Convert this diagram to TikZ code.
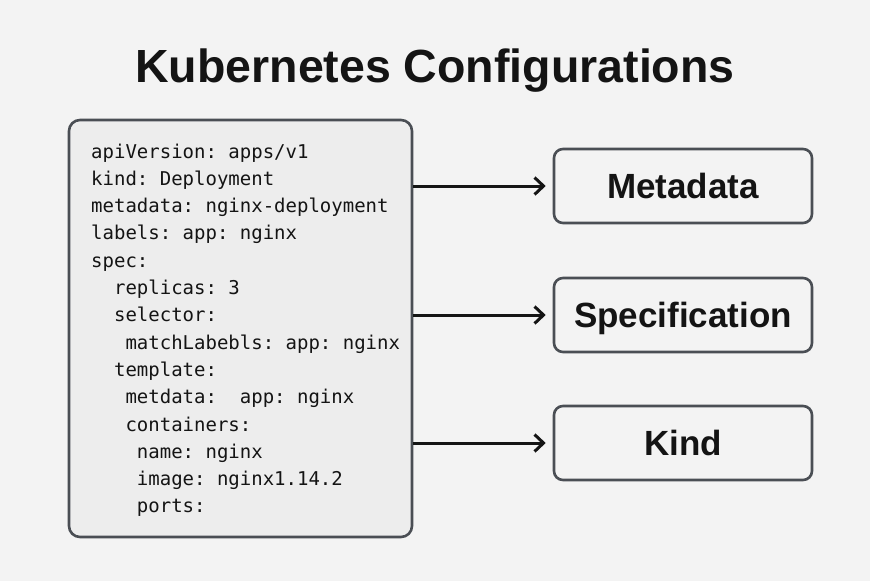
\documentclass[tikz,border=0pt]{standalone}
\usepackage{fontspec}
\setsansfont{Liberation Sans}
\setmonofont{DejaVu Sans Mono}
\usetikzlibrary{arrows.meta}

\definecolor{bgGray}{HTML}{F3F3F3}
\definecolor{codeFill}{HTML}{EDEDED}
\definecolor{edgeGray}{HTML}{4A4E54}
\definecolor{inkDark}{HTML}{141414}

\begin{document}
\begin{tikzpicture}[x=1pt, y=-1pt,
	every node/.style={text=inkDark},
	codeline/.style={anchor=base west, inner sep=0pt, font=\ttfamily\fontsize{19}{27}\selectfont},
	partbox/.style={draw=edgeGray, line width=2.6pt, rounded corners=9pt, fill=bgGray,
		minimum width=258pt, minimum height=74pt, text height=25pt, text depth=0pt,
		font=\sffamily\bfseries\fontsize{35}{40}\selectfont},
	>={Straight Barb[length=9pt, width=17pt, line width=3pt]}]
	% background and frame
	\useasboundingbox (0,0) rectangle (870,581);
	\fill[bgGray] (0,0) rectangle (870,581);
	\node[anchor=base, font=\sffamily\bfseries\fontsize{46.5}{50}\selectfont] (title) at (435,82) {Kubernetes Configurations};
	% yaml file
	\node[draw=edgeGray, line width=2.6pt, rounded corners=11pt, fill=codeFill,
		minimum width=343pt, minimum height=417pt] (yaml) at (240.5,328.5) {};
	\foreach \txt [count=\i] in {apiVersion: apps/v1, kind: Deployment, metadata: nginx-deployment,
		labels: app: nginx, spec:, {\ \ replicas: 3}, {\ \ selector:}, {\ \ \ matchLabebls: app: nginx},
		{\ \ template:}, {\ \ \ metdata:\ \ app: nginx}, {\ \ \ containers:}, {\ \ \ \ name: nginx},
		{\ \ \ \ image: nginx1.14.2}, {\ \ \ \ ports:}}
		\node[codeline] (l\i) at (91,{158+27.3*(\i-1)}) {\txt};
	% parts
	\node[partbox] (meta) at (683,186) {Metadata};
	\node[partbox] (spec) at (683,315) {Specification};
	\node[partbox] (kind) at (683,443) {Kind};
	\foreach \p in {meta,spec,kind}
		\draw[->, line width=3pt, inkDark, shorten >=7pt] (yaml.east |- \p.west) -- (\p.west);
\end{tikzpicture}
\end{document}
